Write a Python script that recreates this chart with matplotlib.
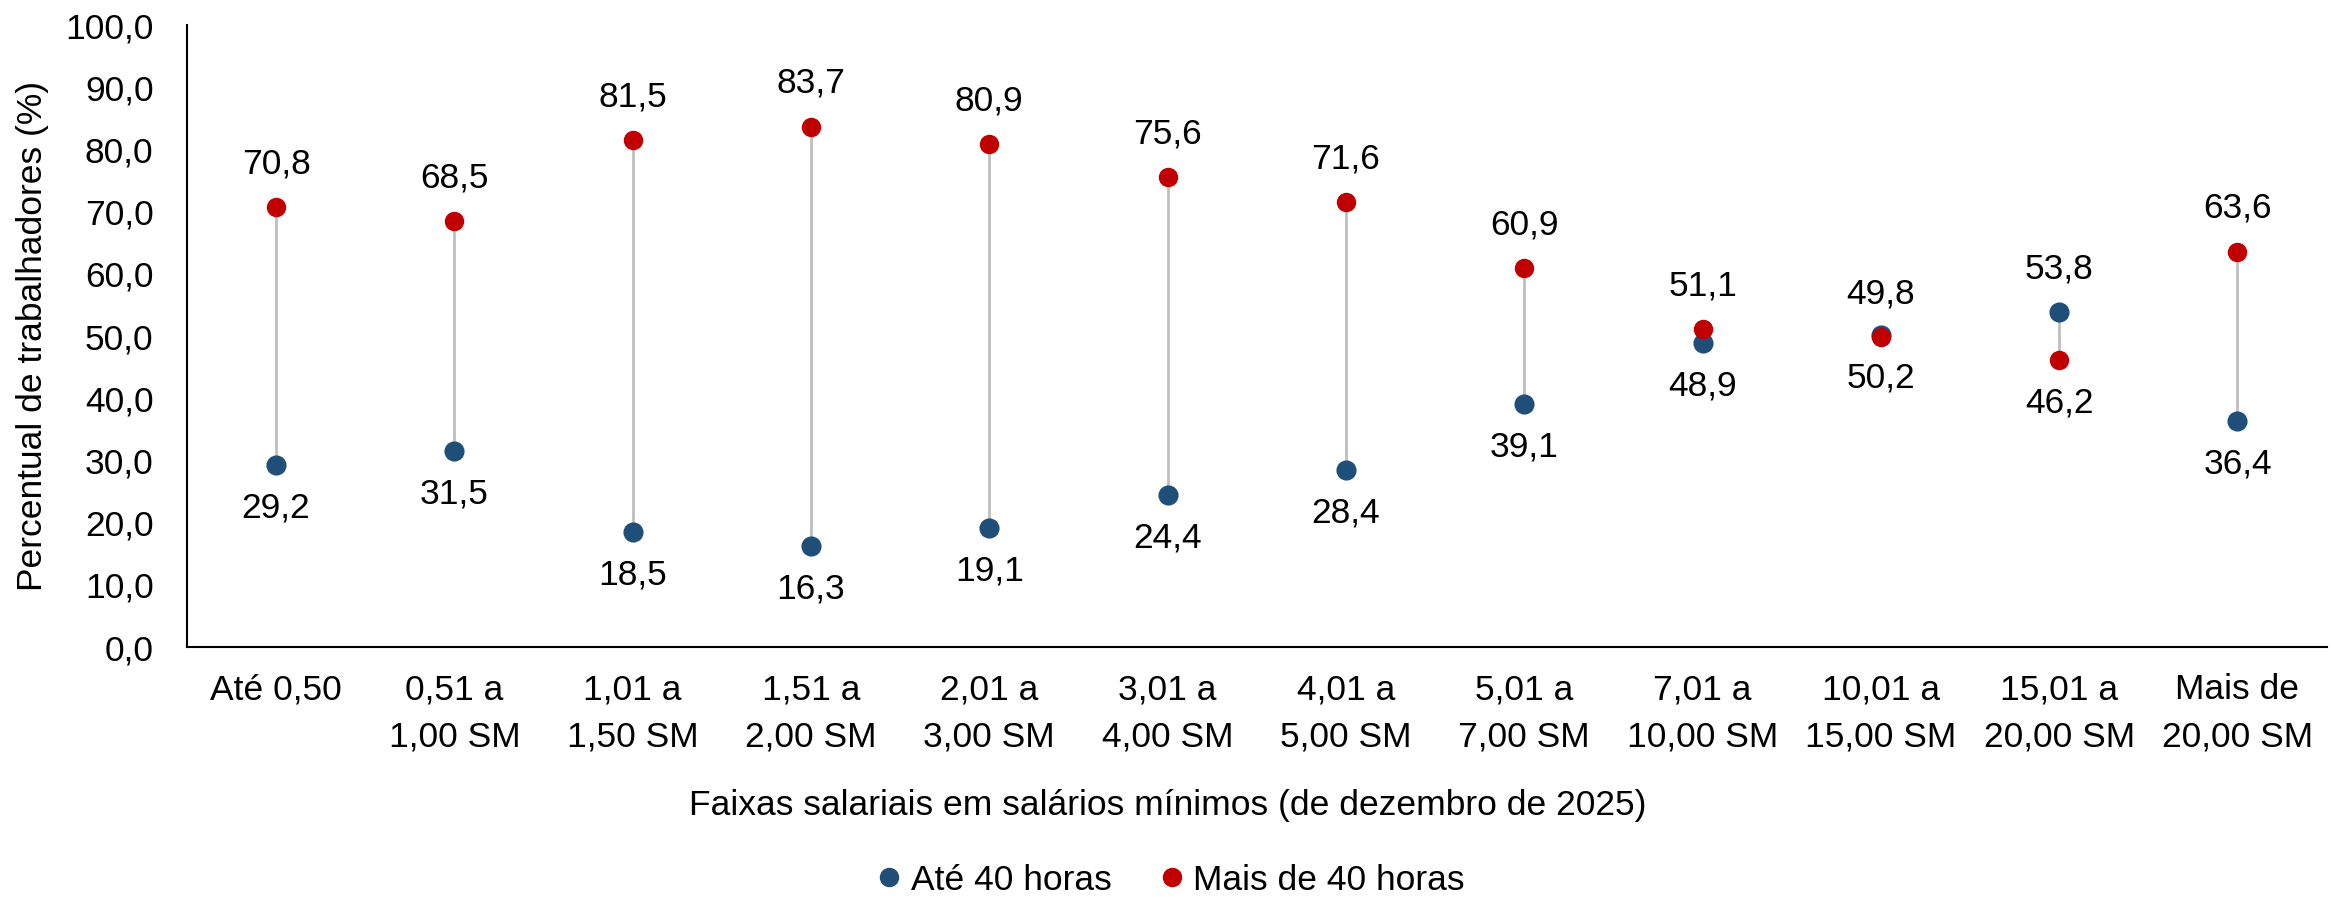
import matplotlib
matplotlib.use("Agg")
import matplotlib.pyplot as plt
from matplotlib.lines import Line2D

plt.rcParams['font.family'] = ['Liberation Sans', 'DejaVu Sans']

categories = ["Até 0,50", "0,51 a\n1,00 SM", "1,01 a\n1,50 SM", "1,51 a\n2,00 SM",
              "2,01 a\n3,00 SM", "3,01 a\n4,00 SM", "4,01 a\n5,00 SM", "5,01 a\n7,00 SM",
              "7,01 a\n10,00 SM", "10,01 a\n15,00 SM", "15,01 a\n20,00 SM", "Mais de\n20,00 SM"]
ate40 = [29.2, 31.5, 18.5, 16.3, 19.1, 24.4, 28.4, 39.1, 48.9, 50.2, 53.8, 36.4]
mais40 = [70.8, 68.5, 81.5, 83.7, 80.9, 75.6, 71.6, 60.9, 51.1, 49.8, 46.2, 63.6]
red_label_above = [True] * 10 + [False, True]
yticks = [0, 10, 20, 30, 40, 50, 60, 70, 80, 90, 100]

blue = "#1F4E79"
red = "#C00000"
fs = 25.5

fig = plt.figure(figsize=(23.36, 8.99), dpi=100)
ax = fig.add_axes([0.080, 0.2803, 0.916, 0.6917])

x = list(range(len(categories)))
for i in x:
    ax.plot([i, i], [ate40[i], mais40[i]], color="#BFBFBF", lw=2, zorder=1)
ax.plot(x, ate40, 'o', color=blue, ms=13.5, zorder=2, label="Até 40 horas")
ax.plot(x, mais40, 'o', color=red, ms=13, zorder=3, label="Mais de 40 horas")

def fmt(v):
    return f"{v:.1f}".replace(".", ",")

for i in x:
    up = red_label_above[i]
    ax.annotate(fmt(mais40[i]), (i, mais40[i]), xytext=(0, 31 if up else -31),
                textcoords='offset points', ha='center', va='center', fontsize=fs)
    ax.annotate(fmt(ate40[i]), (i, ate40[i]), xytext=(0, -31 if up else 31),
                textcoords='offset points', ha='center', va='center', fontsize=fs)

ax.set_xlim(-0.5, len(categories) - 0.5)
ax.set_ylim(0, 100)
ax.set_yticks(yticks)
ax.set_yticklabels([fmt(v) for v in yticks], fontsize=fs)
ax.set_xticks(x)
ax.set_xticklabels(categories, fontsize=fs, linespacing=1.55)
ax.tick_params(axis='both', length=0)
ax.tick_params(axis='y', pad=24)
ax.tick_params(axis='x', pad=19)
for s in ['top', 'right']:
    ax.spines[s].set_visible(False)
for s in ['left', 'bottom']:
    ax.spines[s].set_linewidth(1.5)
    ax.spines[s].set_color('black')

ax.set_ylabel("Percentual de trabalhadores (%)", fontsize=fs, labelpad=12)
fig.text(0.5, 1 - 806 / 899, "Faixas salariais em salários mínimos (de dezembro de 2025)",
         ha='center', va='center', fontsize=fs)

handles = [Line2D([], [], marker='o', ls='', color=blue, ms=13),
           Line2D([], [], marker='o', ls='', color=red, ms=13)]
fig.legend(handles, ["Até 40 horas", "Mais de 40 horas"], loc='center',
           bbox_to_anchor=(0.5, 1 - 880 / 899), ncol=2, frameon=False, fontsize=fs,
           handletextpad=0.1, columnspacing=1.2, handlelength=1.0)

fig.savefig("out.png", dpi=100)
